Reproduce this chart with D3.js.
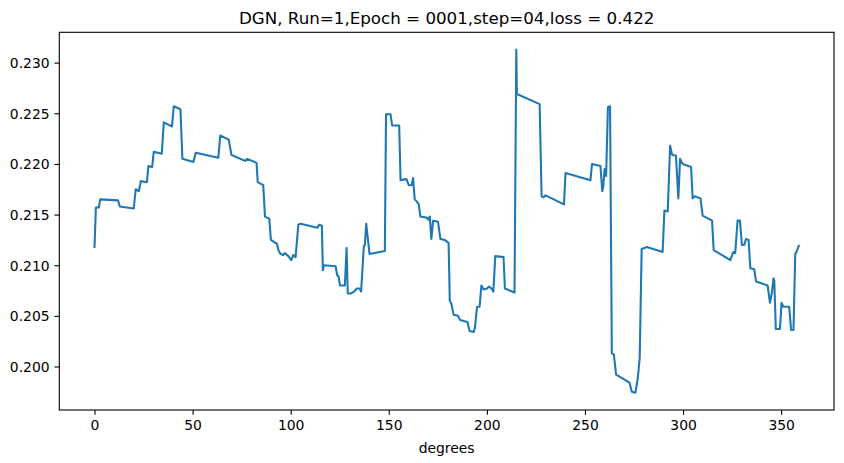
<!DOCTYPE html>
<html>
<head>
<meta charset="utf-8">
<script src="https://cdn.jsdelivr.net/npm/d3@7"></script>
<style>
  body { margin: 0; background: #fff; }
  svg { display: block; }
</style>
</head>
<body>
<div id="graphic"></div>
<script>
'use strict';

// Values (degree, loss value at that vertex)
const degrees = [
  0, 0.7, 2.2, 2.9, 12.0, 12.9, 20.0, 21.0, 22.6, 23.6, 26.7, 27.5, 29.4, 30.2, 34.3, 35.3, 39.5, 40.4, 43.8, 44.8,
  50.4, 51.6, 63.1, 64.1, 68.4, 69.8, 70.8, 76.7, 77.9, 82.6, 83.2, 86.0, 86.9, 89.1, 89.9, 93.0, 93.9, 94.9, 96.2, 97.0,
  98.8, 100.3, 101.3, 102.5, 103.9, 105.0, 113.7, 114.5, 115.9, 116.4, 116.9, 122.9, 123.7, 124.4, 125.1, 127.6, 128.5,
  129.1, 130.5, 132.3, 133.7, 135.2, 135.9, 137.3, 137.8, 138.5, 140.2, 148.0, 148.6, 150.9, 151.7, 155.3, 156.0, 159.0,
  160.2, 161.6, 162.4, 163.2, 164.2, 165.3, 166.1, 169.3, 170.1, 170.9, 171.7, 172.6, 175.1, 176.3, 178.5, 180.5, 181.1,
  181.9, 183.1, 185.3, 186.3, 190.1, 191.2, 193.3, 193.9, 195.0, 196.3, 197.2, 198.4, 200.1, 201.1, 202.3, 203.3, 204.3,
  208.5, 209.2, 214.1, 215.0, 215.3, 226.9, 227.9, 228.9, 229.9, 239.3, 240.1, 252.8, 253.6, 257.9, 258.8, 259.3, 260.0,
  260.8, 261.7, 262.8, 263.7, 264.7, 265.9, 272.7, 273.9, 275.7, 276.9, 277.9, 278.9, 280.3, 281.5, 289.6, 290.5, 292.2,
  293.4, 294.4, 296.4, 297.6, 298.5, 299.8, 304.1, 304.9, 305.9, 308.9, 310.0, 314.8, 315.6, 324.1, 325.6, 326.6, 327.8,
  329.0, 330.0, 331.2, 332.1, 333.4, 334.3, 336.3, 337.2, 343.1, 344.3, 345.3, 346.1, 346.5, 347.3, 349.4, 350.2, 351.1,
  354.1, 355.1, 356.3, 357.2, 357.8, 359.0
];

const values = [
  0.2118, 0.2157, 0.2157, 0.2165, 0.2164, 0.2158, 0.2156, 0.2175, 0.2173, 0.2183, 0.2182, 0.2198, 0.2197, 0.2212, 0.221,
  0.2241, 0.2237, 0.2257, 0.2254, 0.2205, 0.2202, 0.2211, 0.2206, 0.2228, 0.2224, 0.2209, 0.2208, 0.2203, 0.2205, 0.2201,
  0.2182, 0.2179, 0.2148, 0.2146, 0.2125, 0.2121, 0.2114, 0.2111, 0.211, 0.2112, 0.2109, 0.2105, 0.211, 0.2108, 0.214,
  0.2141, 0.2137, 0.214, 0.2139, 0.2095, 0.21, 0.2099, 0.209, 0.2089, 0.208, 0.208, 0.2117, 0.2072, 0.2072, 0.2074,
  0.2077, 0.2077, 0.2074, 0.2119, 0.212, 0.2141, 0.2111, 0.2114, 0.2249, 0.2249, 0.2238, 0.2238, 0.2184, 0.2185, 0.2179,
  0.2179, 0.2186, 0.2165, 0.2163, 0.216, 0.2148, 0.2147, 0.2145, 0.2148, 0.2126, 0.2144, 0.2143, 0.2126, 0.2125, 0.2122,
  0.2065, 0.2062, 0.2051, 0.205, 0.2046, 0.2044, 0.2035, 0.2034, 0.2038, 0.2059, 0.2059, 0.208, 0.2076, 0.2077, 0.2079,
  0.2077, 0.2074, 0.2109, 0.2108, 0.2077, 0.2073, 0.2313, 0.2269, 0.2259, 0.2168, 0.2167, 0.2169, 0.216, 0.2191, 0.2184,
  0.22, 0.2198, 0.2173, 0.2177, 0.2195, 0.2188, 0.2256, 0.2257, 0.2013, 0.2012, 0.1992, 0.1984, 0.1975, 0.1974, 0.1988,
  0.2008, 0.2116, 0.2117, 0.2118, 0.2113, 0.2154, 0.2153, 0.2218, 0.2209, 0.2208, 0.2166, 0.2205, 0.22, 0.2197, 0.2166,
  0.2168, 0.2166, 0.2149, 0.2144, 0.2115, 0.2105, 0.2113, 0.2112, 0.2144, 0.2144, 0.212, 0.212, 0.2126, 0.2125, 0.2097,
  0.2096, 0.2084, 0.208, 0.2063, 0.2073, 0.2087, 0.2085, 0.2037, 0.2037, 0.2063, 0.2059, 0.2059, 0.2036, 0.2036, 0.2111,
  0.2113, 0.2119
];

const xTicks = [0, 50, 100, 150, 200, 250, 300, 350];
const yTicks = [0.2, 0.205, 0.21, 0.215, 0.22, 0.225, 0.23];

const titleText = `DGN, Run=1,Epoch = 0001,step=04,loss = 0.422`;
const xLabelText = `degrees`;

const width = 844;
const height = 463;
const margin = { top: 32.3, right: 10, bottom: 53, left: 59.3 };
const fontFamily = `"DejaVu Sans", sans-serif`;
const lineColor = `#1f77b4`;
const tickLength = 4.86;
const tickPad = 4.86;

const data = degrees.map((d, i) => ({ x: d, y: values[i] }));

// matplotlib-like 5% margins around the data
const xExtent = d3.extent(data, (d) => d.x);
const yExtent = d3.extent(data, (d) => d.y);
const xPad = (xExtent[1] - xExtent[0]) * 0.05;
const yPad = (yExtent[1] - yExtent[0]) * 0.05;

const x = d3
  .scaleLinear()
  .domain([xExtent[0] - xPad, xExtent[1] + xPad])
  .range([margin.left, width - margin.right]);

const y = d3
  .scaleLinear()
  .domain([yExtent[0] - yPad, yExtent[1] + yPad])
  .range([height - margin.bottom, margin.top]);

const svg = d3
  .select(`div#graphic`)
  .append(`svg`)
  .attr(`width`, width)
  .attr(`height`, height)
  .attr(`viewBox`, [0, 0, width, height]);

// Clip so the line never leaves the axes box
svg
  .append(`defs`)
  .append(`clipPath`)
  .attr(`id`, `plotClip`)
  .append(`rect`)
  .attr(`x`, margin.left)
  .attr(`y`, margin.top)
  .attr(`width`, width - margin.left - margin.right)
  .attr(`height`, height - margin.top - margin.bottom);

// Line
const line = d3
  .line()
  .x((d) => x(d.x))
  .y((d) => y(d.y));

svg
  .append(`path`)
  .datum(data)
  .attr(`clip-path`, `url(#plotClip)`)
  .attr(`fill`, `none`)
  .attr(`stroke`, lineColor)
  .attr(`stroke-width`, 2.08)
  .attr(`stroke-linejoin`, `round`)
  .attr(`stroke-linecap`, `square`)
  .attr(`d`, line);

// X axis
const xAxis = d3
  .axisBottom(x)
  .tickValues(xTicks)
  .tickSize(tickLength)
  .tickPadding(tickPad)
  .tickSizeOuter(0)
  .tickFormat(d3.format(`d`));

svg
  .append(`g`)
  .attr(`transform`, `translate(0,${height - margin.bottom})`)
  .call(xAxis)
  .call((g) => g.select(`.domain`).remove())
  .call((g) => g.selectAll(`line`).attr(`stroke`, `#000`).attr(`stroke-width`, 1.1))
  .call((g) => g.selectAll(`text`).attr(`fill`, `#000`).attr(`font-size`, 13.9).attr(`font-family`, fontFamily));

// Y axis
const yAxis = d3
  .axisLeft(y)
  .tickValues(yTicks)
  .tickSize(tickLength)
  .tickPadding(tickPad)
  .tickSizeOuter(0)
  .tickFormat(d3.format(`.3f`));

svg
  .append(`g`)
  .attr(`transform`, `translate(${margin.left},0)`)
  .call(yAxis)
  .call((g) => g.select(`.domain`).remove())
  .call((g) => g.selectAll(`line`).attr(`stroke`, `#000`).attr(`stroke-width`, 1.1))
  .call((g) =>
    g
      .selectAll(`text`)
      .attr(`fill`, `#000`)
      .attr(`font-size`, 13.9)
      .attr(`font-family`, fontFamily)
      .attr(`dy`, `0.36em`)
  );

// Axes frame
svg
  .append(`rect`)
  .attr(`x`, margin.left)
  .attr(`y`, margin.top)
  .attr(`width`, width - margin.left - margin.right)
  .attr(`height`, height - margin.top - margin.bottom)
  .attr(`fill`, `none`)
  .attr(`stroke`, `#000`)
  .attr(`stroke-width`, 1.1);

const centerX = (margin.left + width - margin.right) / 2;

// Title
svg
  .append(`text`)
  .attr(`x`, centerX)
  .attr(`y`, margin.top - 8.5)
  .attr(`text-anchor`, `middle`)
  .attr(`font-family`, fontFamily)
  .attr(`font-size`, 16.7)
  .attr(`fill`, `#000`)
  .text(titleText);

// X label
svg
  .append(`text`)
  .attr(`x`, centerX)
  .attr(`y`, height - 10.5)
  .attr(`text-anchor`, `middle`)
  .attr(`font-family`, fontFamily)
  .attr(`font-size`, 13.9)
  .attr(`fill`, `#000`)
  .text(xLabelText);
</script>
</body>
</html>
